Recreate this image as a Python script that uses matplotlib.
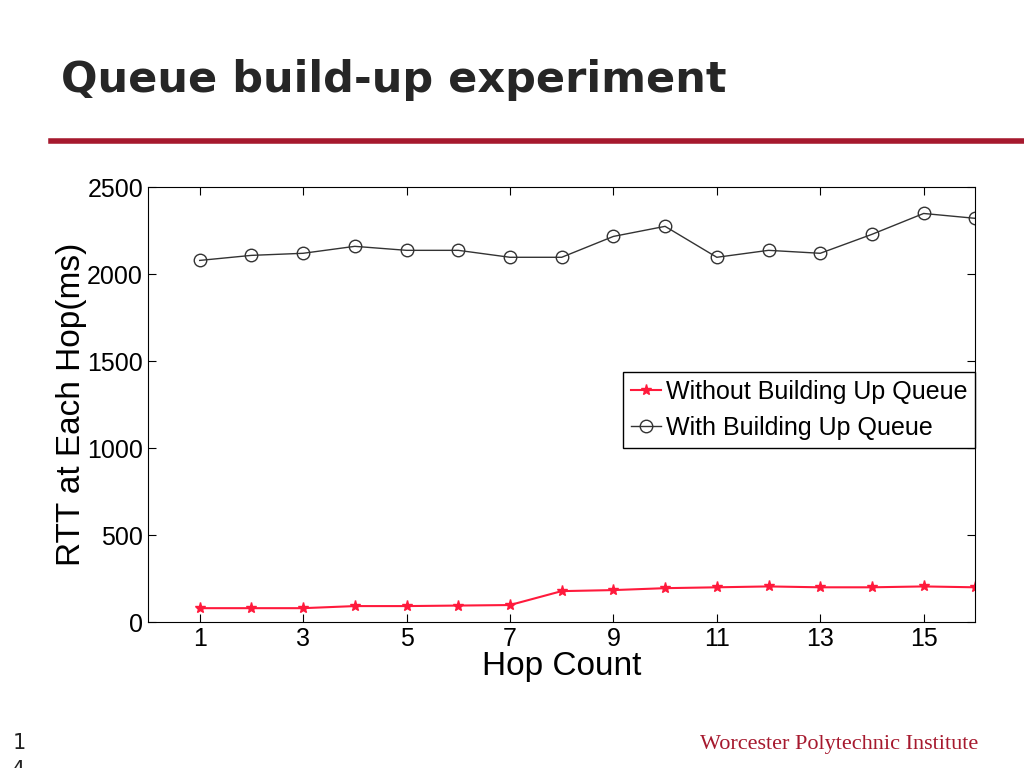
import matplotlib
matplotlib.use("Agg")
import matplotlib.pyplot as plt

hops = list(range(1, 17))
without_queue = [80, 80, 80, 92, 92, 95, 98, 178, 184, 195, 200, 205, 200, 200, 205, 200]
with_queue = [2080, 2109, 2121, 2161, 2138, 2138, 2098, 2098, 2218, 2276, 2098, 2138, 2121, 2230, 2350, 2322]
xticks = [1, 3, 5, 7, 9, 11, 13, 15]
yticks = [0, 500, 1000, 1500, 2000, 2500]

fig = plt.figure(figsize=(10.24, 7.68), dpi=100)
fig.text(0.06, 0.88, "Queue build-up experiment", fontsize=31, fontweight="bold",
         color="#262626", family="DejaVu Sans")
fig.add_artist(plt.Line2D([0.05, 1.0], [0.817, 0.817], color="#a6192e", lw=4))
fig.text(0.955, 0.025, "Worcester Polytechnic Institute", fontsize=16, color="#a6192e",
         family="Liberation Serif", ha="right")
fig.text(0.012, 0.025, "1", fontsize=15, color="#222222")
fig.text(0.012, -0.01, "4", fontsize=15, color="#222222")

plt.rcParams["font.family"] = "Liberation Sans"
ax = fig.add_axes([0.1445, 0.19, 0.808, 0.566])
ax.plot(hops, without_queue, color="#ff1a3c", marker="*", markersize=8, lw=1.5,
        label="Without Building Up Queue")
ax.plot(hops, with_queue, color="#333333", marker="o", markerfacecolor="none",
        markersize=9, lw=1, label="With Building Up Queue")
ax.set_xlim(0, 16)
ax.set_ylim(0, 2500)
ax.set_xticks(xticks)
ax.set_yticks(yticks)
ax.tick_params(direction="in", labelsize=18, top=True, right=True, length=6)
ax.set_xlabel("Hop Count", fontsize=24, labelpad=0)
ax.set_ylabel("RTT at Each Hop(ms)", fontsize=24, labelpad=0)
ax.legend(loc="upper right", bbox_to_anchor=(0.9995, 0.575), fontsize=18, fancybox=False,
          edgecolor="black", framealpha=1, handlelength=1.2, handletextpad=0.2,
          borderpad=0.3, labelspacing=0.5, borderaxespad=0)
fig.savefig("out.png", dpi=100)
